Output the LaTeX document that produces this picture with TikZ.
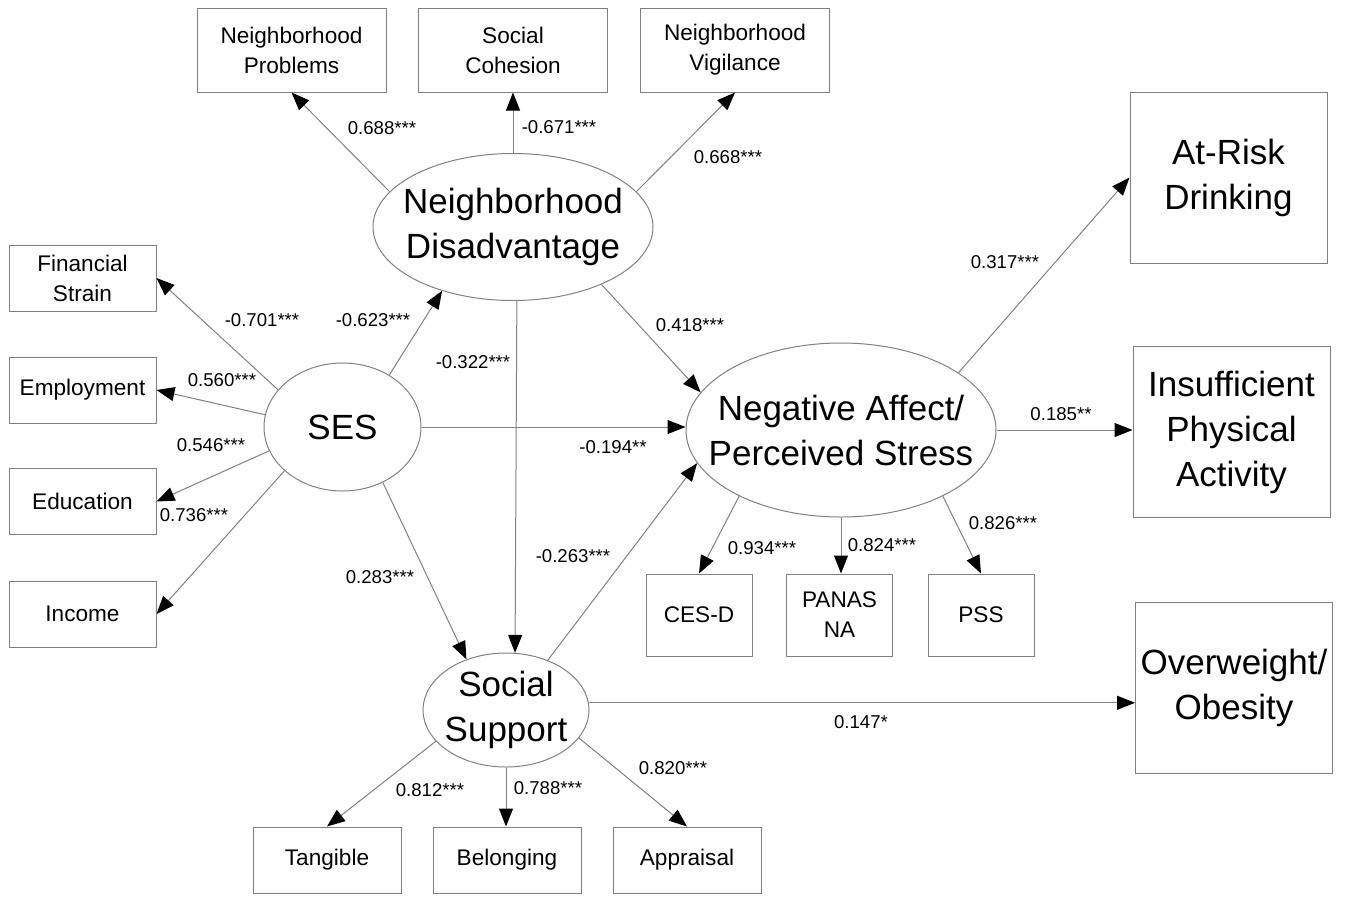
\documentclass[tikz,border=0pt]{standalone}
\usepackage{fontspec}
\setmainfont{Liberation Sans}
\usetikzlibrary{shapes.geometric,arrows.meta}
\begin{document}
\begin{tikzpicture}[x=0.5pt,y=-0.5pt,
 box/.style={draw=gray, line width=0.5pt, rectangle, inner sep=0pt, align=center, font=\fontsize{11.3}{15}\selectfont},
 smallbox/.style={box, minimum width=94.5pt, minimum height=42pt},
 sidebox/.style={box, minimum width=73.5pt, minimum height=33pt},
 indbox/.style={box, minimum width=53pt, minimum height=41pt},
 ssbox/.style={box, minimum width=74pt, minimum height=33pt},
 obox/.style={box, minimum width=98.5pt, minimum height=85.5pt, font=\fontsize{17.5}{22.5}\selectfont},
 lat/.style={draw=gray, line width=0.5pt, ellipse, inner sep=0pt},
 lattext/.style={align=center, inner sep=0pt, font=\fontsize{17.5}{22.5}\selectfont},
 lbl/.style={inner sep=0pt, font=\fontsize{9.3}{11}\selectfont},
 conn/.style={draw=gray, line width=0.5pt, -{Triangle[length=9pt,width=7pt,color=black]}}]
\useasboundingbox (0,0) rectangle (1345,896);

% indicator boxes (top)
\node[smallbox] (np) at (291.5,50) {Neighborhood\\Problems};
\node[smallbox] (sc) at (513,50) {Social\\Cohesion};
\node[smallbox] (nv) at (735,50) {Neighborhood\\Vigilance};
% SES indicators
\node[sidebox] (fs) at (82.5,278) {Financial\\Strain};
\node[sidebox] (emp) at (82.5,390) {Employment};
\node[sidebox] (edu) at (82.5,501.5) {Education};
\node[sidebox] (inc) at (82.5,614) {Income};
% outcomes
\node[obox] (ar) at (1228.5,177.5) {At-Risk\\Drinking};
\node[obox] (ins) at (1231.5,432) {Insufficient\\Physical\\Activity};
\node[obox] (ow) at (1234,687.5) {Overweight/\\Obesity};
% negative affect indicators
\node[indbox] (ces) at (699,615) {CES-D};
\node[indbox] (pan) at (839.5,615) {PANAS\\NA};
\node[indbox] (pss) at (981,615) {PSS};
% social support indicators
\node[ssbox] (tan) at (327,860) {Tangible};
\node[ssbox] (bel) at (507,860) {Belonging};
\node[ssbox] (app) at (687,860) {Appraisal};

% latent variables
\node[lat, minimum width=140pt, minimum height=73.5pt] (nd) at (513,227) {};
\node[lattext] (ndt) at (nd.center) {Neighborhood\\Disadvantage};
\node[lat, minimum width=78.5pt, minimum height=64pt] (ses) at (342.5,427) {};
\node[lattext] (sest) at (ses.center) {SES};
\node[lat, minimum width=155pt, minimum height=87pt] (na) at (841,430) {};
\node[lattext] (nat) at (na.center) {Negative Affect/\\Perceived Stress};
\node[lat, minimum width=83pt, minimum height=57pt] (ss) at (506,710) {};
\node[lattext] (sst) at (ss.center) {Social\\Support};

% connectors
\draw[conn] (nd.164) -- (np.south);
\draw[conn] (nd.north) -- (sc.south);
\draw[conn] (nd.16) -- (nv.south);
\draw[conn] (ses.150) -- (fs.east);
\draw[conn] (ses.171) -- (emp.east);
\draw[conn] (ses.198) -- (edu.east);
\draw[conn] (ses.217) -- (inc.east);
\draw[conn] (ses.48) -- (nd.222);
\draw[conn] (ses.east) -- (ses.east -| na.west);
\draw[conn] (ses.306) -- (ss.128);
\draw[conn] (nd.273) -- (ss.81);
\draw[conn] (nd.327) -- (na.165);
\draw[conn] (ss.50) -- (na.193);
\draw[conn] (na.26) -- (ar.west);
\draw[conn] (na.east) -- (na.east -| ins.west);
\draw[conn] (na.213) -- (ces.north);
\draw[conn] (na.south) -- (na.south |- pan.north);
\draw[conn] (na.327) -- (pss.north);
\draw[conn] (ss.5) -- (ss.5 -| ow.west);
\draw[conn] (ss.204) -- (tan.north);
\draw[conn] (ss.south) -- (ss.south |- bel.north);
\draw[conn] (ss.339) -- (app.north);

% labels
\node[lbl] at (382,128) {0.688***};
\node[lbl] at (559,127) {-0.671***};
\node[lbl] at (728,157) {0.668***};
\node[lbl] at (262,320) {-0.701***};
\node[lbl] at (373,320) {-0.623***};
\node[lbl] at (222,380) {0.560***};
\node[lbl] at (211,445) {0.546***};
\node[lbl] at (194,515) {0.736***};
\node[lbl] at (473,362) {-0.322***};
\node[lbl] at (690,325) {0.418***};
\node[lbl] at (613,447) {-0.194**};
\node[lbl] at (380,577) {0.283***};
\node[lbl] at (573,556) {-0.263***};
\node[lbl] at (1005,262) {0.317***};
\node[lbl] at (1061,414) {0.185**};
\node[lbl] at (762,548) {0.934***};
\node[lbl] at (882,545) {0.824***};
\node[lbl] at (1003,523) {0.826***};
\node[lbl] at (861,722) {0.147*};
\node[lbl] at (430,790) {0.812***};
\node[lbl] at (548,788) {0.788***};
\node[lbl] at (673,768) {0.820***};
\end{tikzpicture}
\end{document}
